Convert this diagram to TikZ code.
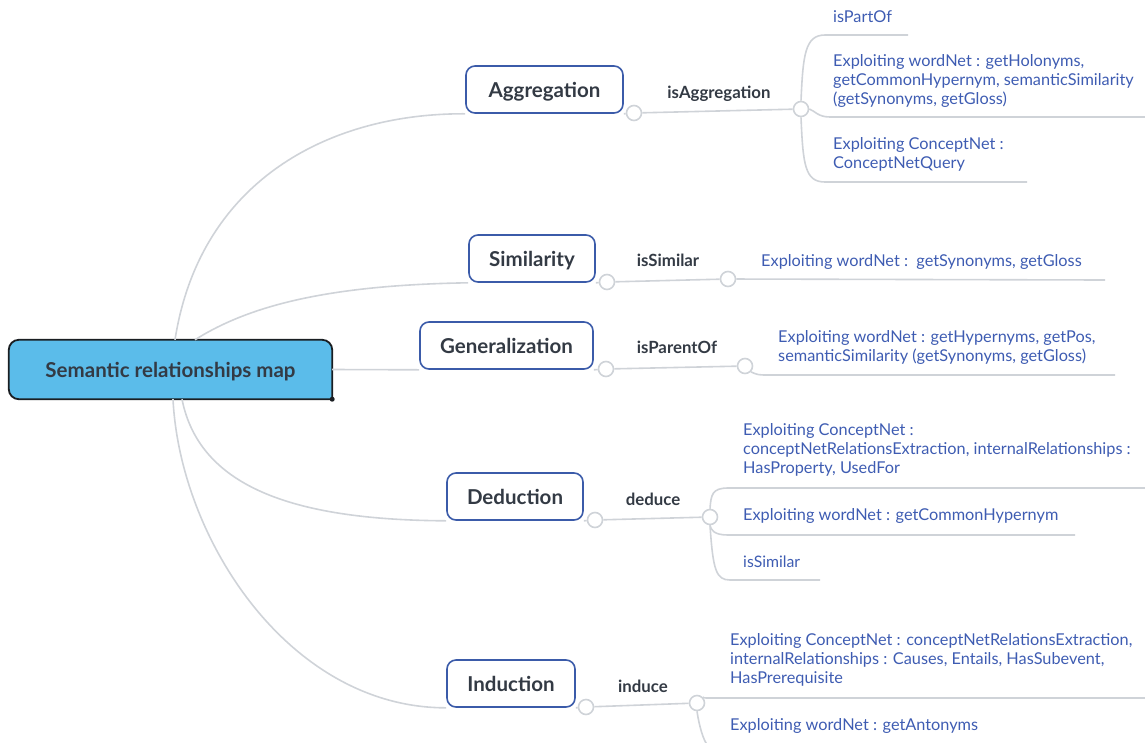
\documentclass[tikz,border=0pt]{standalone}
\usepackage{fontspec}
\setmainfont{Lato}
\usetikzlibrary{backgrounds}
\definecolor{linegray}{HTML}{CFD3D8}
\definecolor{boxblue}{HTML}{3B5BA9}
\definecolor{textdark}{HTML}{333A44}
\definecolor{leafblue}{HTML}{3E5CB2}
\definecolor{rootfill}{HTML}{5BBCEA}
\definecolor{rootedge}{HTML}{1A1E22}

\begin{document}
\begin{tikzpicture}[x=1pt,y=-1pt, rootbox/.style={minimum width=323pt,minimum height=59pt,inner sep=0pt,text depth=0pt,text=textdark,font=\fontsize{20.5}{24}\selectfont\bfseries}, topic/.style={draw=boxblue,line width=1.6pt,rounded corners=9pt,minimum height=47pt,inner sep=0pt,text depth=0pt,text=textdark,font=\fontsize{20.5}{24}\selectfont\bfseries}, rel/.style={inner sep=0pt,text depth=0pt,text=textdark,font=\fontsize{16.8}{20}\selectfont\bfseries}, leaf/.style={anchor=west,align=left,inner sep=0pt,text=leafblue,font=\fontsize{16.3}{19}\selectfont}, joint/.style={circle,draw=linegray,fill=white,line width=1.6pt,minimum size=15pt,inner sep=0pt}, conn/.style={draw=linegray,line width=1.6pt}]
\useasboundingbox (0,0) rectangle (1145,742);
\clip (0,0) rectangle (1145,742);
% central topic
\node[rootbox] (root) at (170.5,369.5) {Semantic relationships map};
\begin{scope}[on background layer]
\draw[fill=rootfill,draw=rootedge,line width=1.8pt,rounded corners=10pt] (root.south east) -- (root.south west) -- (root.north west) -- (root.north east) -- (root.south east);
\end{scope}
\fill[rootedge] (root.south east) circle (2.5pt);
% main topics
\node[topic,minimum width=157pt] (agg) at (544.5,89.5) {Aggregation};
\node[topic,minimum width=126pt] (sim) at (532,258.5) {Similarity};
\node[topic,minimum width=173pt] (gen) at (506.5,345.5) {Generalization};
\node[topic,minimum width=136pt] (ded) at (515,496.5) {Deduction};
\node[topic,minimum width=128pt] (ind) at (511,683.5) {Induction};
% joints
\node[joint] (aggc) at (634,113) {};
\node[joint] (aggj) at (801,109) {};
\node[joint] (simc) at (607,282) {};
\node[joint] (simj) at (728,279) {};
\node[joint] (genc) at (606,369) {};
\node[joint] (genj) at (745,366) {};
\node[joint] (dedc) at (595,520) {};
\node[joint] (dedj) at (710,517) {};
\node[joint] (indc) at (586,707) {};
\node[joint] (indj) at (697,703) {};
% relation labels
\node[rel] (aggr) at (719,92) {isAggregation};
\node[rel] (simr) at (668,260) {isSimilar};
\node[rel] (genr) at (677,347) {isParentOf};
\node[rel] (dedr) at (653,499) {deduce};
\node[rel] (indr) at (643,686) {induce};
% leaves
\node[leaf] (aggpo) at (833,17) {isPartOf};
\node[leaf] (aggwn) at (833,80.5) {Exploiting wordNet : getHolonyms,\\getCommonHypernym, semanticSimilarity\\(getSynonyms, getGloss)};
\node[leaf] (aggcn) at (833,154.5) {Exploiting ConceptNet :\\ConceptNetQuery};
\node[leaf] (simwn) at (761,261.5) {Exploiting wordNet :\ \ getSynonyms, getGloss};
\node[leaf] (genwn) at (778,347) {Exploiting wordNet : getHypernyms, getPos,\\semanticSimilarity (getSynonyms, getGloss)};
\node[leaf] (dedcn) at (743,449.5) {Exploiting ConceptNet :\\conceptNetRelationsExtraction, internalRelationships :\\HasProperty, UsedFor};
\node[leaf] (dedwn) at (743,515.5) {Exploiting wordNet : getCommonHypernym};
\node[leaf,font=\fontsize{15.8}{19}\selectfont] (dedsi) at (743,561.5) {isSimilar};
\node[leaf] (indcn) at (730,659.5) {Exploiting ConceptNet : conceptNetRelationsExtraction,\\internalRelationships : Causes, Entails, HasSubevent,\\HasPrerequisite};
\node[leaf] (indwn) at (730,725.5) {Exploiting wordNet : getAntonyms};
% free ends of the leaf lines
\coordinate (agg1) at (908,35);
\coordinate (agg2) at (1145,117);
\coordinate (agg3) at (1027,182);
\coordinate (sim1) at (1105,280);
\coordinate (gen1) at (1115,375);
\coordinate (ded1) at (1145,488);
\coordinate (ded2) at (1075,535);
\coordinate (ded3) at (820,580);
\coordinate (ind1) at (1145,698);
\coordinate (ind2) at (708,746);
% root to topics
\draw[conn] ([xshift=4.5pt]root.north) .. controls (200,180) and (330,113) .. (agg.south west);
\draw[conn] ([xshift=24.5pt]root.north) .. controls (250,305) and (330,285) .. (sim.south west);
\draw[conn] (root.east) -- (gen.south west);
\draw[conn] ([xshift=11.5pt]root.south) .. controls (200,490) and (300,520) .. (ded.south west);
\draw[conn] ([xshift=2.5pt]root.south) .. controls (180,540) and (290,708) .. (ind.south west);
% topics to joints
\draw[conn] (agg.south east) -- (aggc);
\draw[conn] (aggc) -- (aggj);
\draw[conn] (sim.south east) -- (simc);
\draw[conn] (simc) -- (simj);
\draw[conn] (gen.south east) -- (genc);
\draw[conn] (genc) -- (genj);
\draw[conn] (ded.south east) -- (dedc);
\draw[conn] (dedc) -- (dedj);
\draw[conn] (ind.south east) -- (indc);
\draw[conn] (indc) -- (indj);
% joints to leaves
\draw[conn] (aggj.north) .. controls (803,55) and (805,35) .. (825,35) -- (agg1);
\draw[conn] (aggj.east) .. controls (815,111) and (818,117) .. (830,117) -- (agg2);
\draw[conn] (aggj.south) .. controls (803,165) and (805,182) .. (825,182) -- (agg3);
\draw[conn] (simj) -- (sim1);
\draw[conn] (genj.south east) .. controls (758,375) .. (770,375) -- (gen1);
\draw[conn] (dedj.north) .. controls (711,495) and (712,488) .. (728,488) -- (ded1);
\draw[conn] (dedj.south) .. controls (711,530) and (714,535) .. (728,535) -- (ded2);
\draw[conn] (dedj.south) .. controls (713,570) and (716,580) .. (730,580) -- (ded3);
\draw[conn] (indj.north east) .. controls (703,698) .. (715,698) -- (ind1);
\draw[conn] (indj.south) .. controls (699,725) and (703,740) .. (ind2);
\end{tikzpicture}
\end{document}
